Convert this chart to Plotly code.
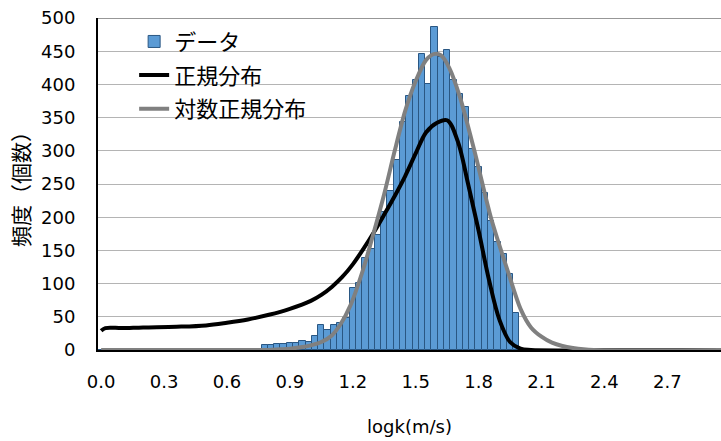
import numpy as np
import plotly.graph_objects as go

# ---- data ----
bin_width = 0.03
bin_centers = np.round(np.arange(100) * bin_width, 2)
counts = ([0] * 26 +
          [7, 7, 9, 9, 10, 11, 14, 12, 21, 37,
           30, 37, 40, 48, 93, 101, 139, 152, 173, 208,
           240, 286, 344, 382, 407, 446, 401, 487, 442, 452,
           406, 386, 366, 302, 275, 236, 195, 162, 144, 114,
           56] +
          [0] * 33)

norm_x = [0.00, 0.02, 0.10, 0.20, 0.36, 0.50, 0.60, 0.70, 0.80, 0.90, 1.00, 1.05,
          1.10, 1.15, 1.20, 1.25, 1.30, 1.35, 1.40, 1.45, 1.50, 1.55, 1.60, 1.65,
          1.70, 1.75, 1.80, 1.85, 1.90, 1.95, 2.00, 2.05, 2.50, 2.97]
norm_y = [29, 33, 33, 34, 35, 37, 41, 46, 53, 62, 74, 83,
          95, 110, 129, 152, 177, 204, 232, 262, 296, 328, 342, 346,
          315, 250, 180, 105, 45, 12, 2, 0, 0, 0]

logn_x = [0.00, 0.50, 0.80, 0.85, 0.90, 0.95, 1.00, 1.05, 1.10, 1.14, 1.19, 1.25,
          1.30, 1.35, 1.40, 1.45, 1.50, 1.55, 1.59, 1.62, 1.66, 1.71, 1.78, 1.86,
          1.94, 2.00, 2.05, 2.10, 2.15, 2.20, 2.25, 2.30, 2.35, 2.97]
logn_y = [0, 0, 0, 1, 2, 4, 7, 12, 22, 38, 68, 122,
          177, 235, 300, 360, 405, 437, 446, 444, 425, 382, 300, 198,
          118, 62, 34, 20, 11, 6, 3, 1, 0, 0]

x_ticks = [0.0, 0.3, 0.6, 0.9, 1.2, 1.5, 1.8, 2.1, 2.4, 2.7]
x_ticktext = ["0.0", "0.3", "0.6", "0.9", "1.2", "1.5", "1.8", "2.1", "2.4", "2.7"]
y_ticks = list(range(0, 501, 50))

FONT = "'DejaVu Sans', 'Noto Sans CJK JP', sans-serif"
CJK = "'Noto Sans CJK JP', sans-serif"

fig = go.Figure()
fig.add_trace(go.Bar(
    x=bin_centers, y=counts, width=bin_width, name="データ",
    marker=dict(color="#5B9BD5", line=dict(color="#2A5783", width=1)),
    legendgroup="a"))
fig.add_trace(go.Scatter(
    x=norm_x, y=norm_y, mode="lines", name="正規分布",
    line=dict(color="#000000", width=4, shape="spline", smoothing=1.0),
    legendgroup="b"))
fig.add_trace(go.Scatter(
    x=logn_x, y=logn_y, mode="lines", name="対数正規分布",
    line=dict(color="#808080", width=4, shape="spline", smoothing=0.8),
    legendgroup="c"))

fig.update_layout(
    width=721, height=441,
    margin=dict(l=98, r=0, t=18, b=91),
    paper_bgcolor="white", plot_bgcolor="white",
    font=dict(family=FONT, size=18, color="#000000"),
    bargap=0,
    showlegend=True,
    legend=dict(x=0.058, y=0.992, xanchor="left", yanchor="top",
                bgcolor="rgba(0,0,0,0)", font=dict(family=CJK, size=22),
                tracegroupgap=2),
    xaxis=dict(range=[-0.015, 2.956], tickvals=x_ticks, ticktext=x_ticktext,
               showgrid=False, zeroline=False, showline=True,
               linecolor="#000000", linewidth=2, mirror=False,
               ticks="", ticklabelstandoff=14,
               title=dict(text="logk(m/s)", standoff=30, font=dict(size=18))),
    yaxis=dict(range=[0, 500], tickvals=y_ticks, showgrid=True,
               gridcolor="#B4B4B4", gridwidth=1, zeroline=False,
               showline=True, linecolor="#000000", linewidth=2,
               ticks="", ticklabelstandoff=17,
               title=dict(text="頻度（個数）", standoff=6,
                          font=dict(family=CJK, size=21))),
    shapes=[dict(type="line", xref="paper", x0=0, x1=1, yref="y", y0=500, y1=500,
                 line=dict(color="#303030", width=1), layer="above")],
)

fig.write_html("out.html")
